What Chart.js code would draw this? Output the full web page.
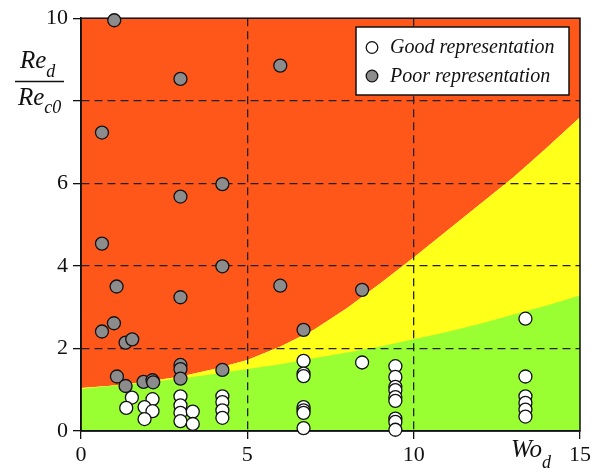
<!DOCTYPE html>
<html>
<head>
<meta charset="utf-8">
<script src="https://cdn.jsdelivr.net/npm/chart.js@4.4.0/dist/chart.umd.min.js"></script>
<style>
  body { margin: 0; background: #fff; }
  #wrap { width: 600px; height: 472px; }
</style>
</head>
<body>
<div id="wrap"><canvas id="womersleyChart" width="600" height="472"></canvas></div>
<script>
// values
const goodWo = [1.53, 1.36, 2.15, 1.91, 2.15, 1.91, 2.99, 2.99, 2.99, 2.99, 3.36, 3.36,
  4.25, 4.25, 4.25, 4.25, 6.69, 6.69, 6.69, 6.69, 6.69, 6.69, 6.69, 8.45,
  9.45, 9.45, 9.45, 9.45, 9.45, 9.45, 9.45, 9.45, 9.45,
  13.36, 13.36, 13.36, 13.36, 13.36, 13.36];
const goodRe = [0.81, 0.56, 0.77, 0.58, 0.48, 0.29, 0.84, 0.62, 0.44, 0.24, 0.47, 0.17,
  0.84, 0.70, 0.50, 0.32, 1.70, 1.39, 1.33, 0.58, 0.50, 0.44, 0.07, 1.66,
  1.57, 1.31, 1.07, 0.99, 0.82, 0.73, 0.30, 0.22, 0.03,
  2.72, 1.32, 0.84, 0.68, 0.52, 0.35];

const poorWo = [1.0, 2.99, 5.99, 0.63, 4.25, 2.99, 0.63, 4.25, 1.07, 2.99, 5.99, 8.45, 6.69,
  0.63, 0.99, 1.34, 1.54, 2.99, 2.99, 2.99, 4.25, 1.08, 1.34, 1.88, 2.15, 2.17];
const poorRe = [9.95, 8.53, 8.85, 7.23, 5.98, 5.68, 4.54, 3.99, 3.50, 3.24, 3.52, 3.42, 2.45,
  2.41, 2.61, 2.14, 2.22, 1.60, 1.50, 1.27, 1.48, 1.32, 1.09, 1.19, 1.23, 1.18];

// region edges (green below, yellow between, orange above)
const edgeWo = [0, 1, 2, 3, 4, 5, 6, 7, 8, 9, 10, 11, 12, 13, 14, 15];
const greenEdge = [1.02, 1.1, 1.18, 1.27, 1.38, 1.5, 1.62, 1.76, 1.9, 2.05, 2.22, 2.4, 2.6, 2.82, 3.04, 3.28];
const orangeEdge = [1.04, 1.1, 1.2, 1.32, 1.5, 1.72, 2.05, 2.45, 2.98, 3.58, 4.2, 4.85, 5.5, 6.15, 6.86, 7.6];

const xTicks = [0, 5, 10, 15];
const yTicks = [0, 2, 4, 6, 8, 10];

const serif = '"Liberation Serif", serif';
const ink = '#111';

Chart.defaults.font.family = serif;
Chart.defaults.color = ink;

const pairs = (xs, ys) => xs.map((x, i) => ({ x: x, y: ys[i] }));

const framePlugin = {
  id: 'frame',
  beforeDatasetsDraw(chart) {
    const { ctx, chartArea: a } = chart;
    ctx.save();
    ctx.strokeStyle = ink;
    ctx.lineWidth = 1.5;
    ctx.strokeRect(a.left, a.top, a.right - a.left, a.bottom - a.top);
    ctx.restore();
  }
};

const labelPlugin = {
  id: 'labels',
  afterDraw(chart) {
    const ctx = chart.ctx;
    ctx.save();
    ctx.fillStyle = ink;
    ctx.textAlign = 'left';
    ctx.textBaseline = 'alphabetic';

    // y axis: Re_d / Re_c0
    ctx.font = 'italic 25px ' + serif;
    ctx.fillText('Re', 20, 68);
    let w = ctx.measureText('Re').width;
    ctx.font = 'italic 18px ' + serif;
    ctx.fillText('d', 20 + w, 77);
    ctx.font = 'italic 25px ' + serif;
    ctx.fillText('Re', 18, 105);
    w = ctx.measureText('Re').width;
    ctx.font = 'italic 18px ' + serif;
    ctx.fillText('c0', 18 + w, 113);
    ctx.strokeStyle = ink;
    ctx.lineWidth = 1.5;
    ctx.beginPath();
    ctx.moveTo(15, 81.5);
    ctx.lineTo(64, 81.5);
    ctx.stroke();

    // x axis: Wo_d
    ctx.font = 'italic 25px ' + serif;
    ctx.fillText('Wo', 511, 457);
    w = ctx.measureText('Wo').width;
    ctx.font = 'italic 18px ' + serif;
    ctx.fillText('d', 511 + w, 468);

    // legend box
    ctx.fillStyle = '#fff';
    ctx.fillRect(356, 27, 213, 68);
    ctx.strokeStyle = ink;
    ctx.lineWidth = 1.5;
    ctx.strokeRect(356, 27, 213, 68);
    const entries = [chart.data.datasets[3], chart.data.datasets[4]];
    entries.forEach((ds, i) => {
      const cy = 47.5 + i * 28.5;
      ctx.beginPath();
      ctx.arc(372, cy, 5.8, 0, Math.PI * 2);
      ctx.fillStyle = ds.backgroundColor;
      ctx.fill();
      ctx.lineWidth = 1.3;
      ctx.strokeStyle = ink;
      ctx.stroke();
      ctx.fillStyle = ink;
      ctx.font = 'italic 20px ' + serif;
      ctx.fillText(ds.label, 390, cy + 5.5);
    });
    ctx.restore();
  }
};

const edgeStyle = {
  type: 'line',
  borderWidth: 0,
  borderColor: 'rgba(0,0,0,0)',
  pointRadius: 0,
  tension: 0,
  order: 10
};

const gridColor = (max) => (c) => (c.tick && (c.tick.value === 0 || c.tick.value === max)) ? 'rgba(0,0,0,0)' : '#222';

new Chart(document.getElementById('womersleyChart'), {
  type: 'scatter',
  data: {
    datasets: [
      // fills are painted last-to-first, so green ends up over yellow
      Object.assign({}, edgeStyle, { label: 'green', data: pairs(edgeWo, greenEdge), fill: 'origin', backgroundColor: '#99ff33' }),
      Object.assign({}, edgeStyle, { label: 'yellow', data: pairs(edgeWo, orangeEdge), fill: 'origin', backgroundColor: '#ffff1a' }),
      Object.assign({}, edgeStyle, { label: 'orange', data: pairs(edgeWo, orangeEdge), fill: 'end', backgroundColor: '#ff571a' }),
      {
        label: 'Good representation',
        data: pairs(goodWo, goodRe),
        backgroundColor: '#ffffff',
        borderColor: ink,
        borderWidth: 1.3,
        pointRadius: 6.5,
        clip: false,
        order: 1
      },
      {
        label: 'Poor representation',
        data: pairs(poorWo, poorRe),
        backgroundColor: '#8c8c8c',
        borderColor: ink,
        borderWidth: 1.3,
        pointRadius: 6.5,
        clip: false,
        order: 2
      }
    ]
  },
  options: {
    responsive: false,
    animation: false,
    events: [],
    layout: { padding: { top: 18, right: 20, left: 0, bottom: 0 } },
    plugins: {
      legend: { display: false },
      tooltip: { enabled: false },
      filler: { drawTime: 'beforeDraw' }
    },
    scales: {
      x: {
        type: 'linear',
        min: xTicks[0],
        max: xTicks[xTicks.length - 1],
        afterFit: (s) => { s.height = 41; },
        afterBuildTicks: (s) => { s.ticks = xTicks.map(v => ({ value: v })); },
        ticks: { color: ink, padding: 3, font: { family: serif, size: 22 }, maxRotation: 0 },
        grid: { color: gridColor(15), lineWidth: 1.3, tickColor: ink, tickLength: 8, tickWidth: 1.3 },
        border: { display: true, color: ink, width: 1.5, dash: [8, 5] }
      },
      y: {
        type: 'linear',
        min: yTicks[0],
        max: yTicks[yTicks.length - 1],
        afterFit: (s) => { s.width = 81; },
        afterBuildTicks: (s) => { s.ticks = yTicks.map(v => ({ value: v })); },
        ticks: {
          color: ink,
          padding: 5,
          font: { family: serif, size: 22 },
          callback: (v) => v === 8 ? '' : v
        },
        grid: { color: gridColor(10), lineWidth: 1.3, tickColor: ink, tickLength: 8, tickWidth: 1.3 },
        border: { display: true, color: ink, width: 1.5, dash: [8, 5] }
      }
    }
  },
  plugins: [framePlugin, labelPlugin]
});
</script>
</body>
</html>
